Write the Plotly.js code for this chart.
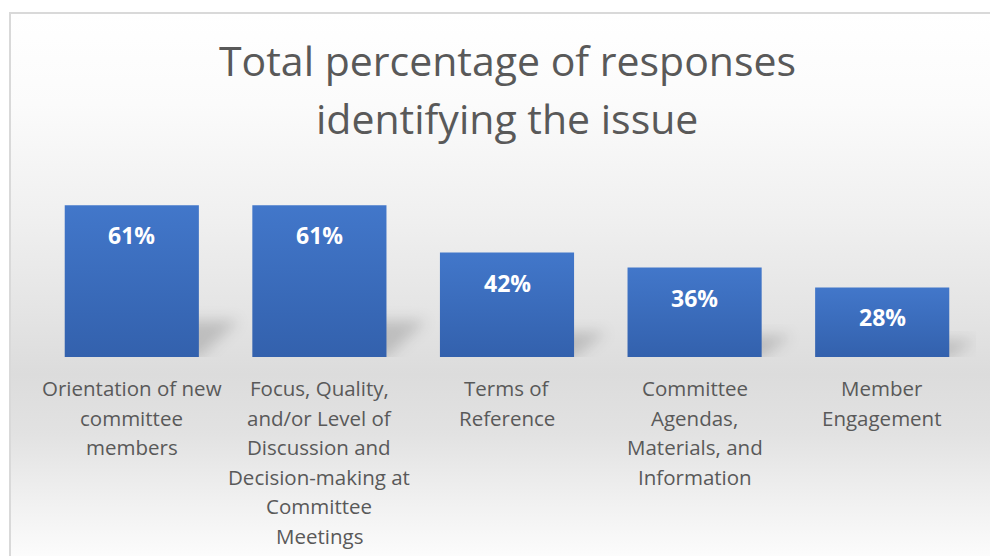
<!DOCTYPE html>
<html>
<head>
<meta charset="utf-8">
<script src="https://cdn.plot.ly/plotly-3.0.1.min.js"></script>
<style>
  html, body { margin: 0; padding: 0; width: 990px; height: 556px; overflow: hidden; background: #ffffff; }
  #frame {
    position: absolute; left: 9px; top: 12px; width: 1000px; height: 560px;
    border: 2px solid #d9d9d9; box-sizing: border-box;
    background: linear-gradient(to bottom, #ffffff 0px, #fbfbfb 90px, #f0f0f0 200px, #e4e4e4 300px, #dcdcdc 360px, #e2e2e2 420px, #efefef 480px, #fcfcfc 544px);
  }
  #plot { position: absolute; left: 0; top: 0; width: 990px; height: 556px; }
</style>
</head>
<body>
<div id="frame"></div>
<div id="plot"></div>
<script>
// chart data
var categories = ["Orientation", "Focus", "Terms", "Agendas", "Engagement"];
var categoryLines = [
    ["Orientation of new", "committee", "members"],
    ["Focus, Quality,", "and/or Level of", "Discussion and", "Decision-making at", "Committee", "Meetings"],
    ["Terms of", "Reference"],
    ["Committee", "Agendas,", "Materials, and", "Information"],
    ["Member", "Engagement"]
];
var percentValues = [61, 61, 42, 36, 28];
var titleLines = ["Total percentage of responses", "identifying the issue"];

var textGray = '#595959';
var fontName = '"Open Sans", sans-serif';

var trace1 = {
    x: categories,
    y: percentValues,
    type: 'bar',
    marker: { color: '#3a6cbd' },
    hoverinfo: 'skip'
};

var annotations = [];

// value labels inside the bars, near the top
for (var i = 0; i < categories.length; i++) {
    annotations.push({
        x: categories[i], y: percentValues[i],
        xref: 'x', yref: 'y',
        text: '<b>' + percentValues[i] + '%</b>',
        showarrow: false,
        yanchor: 'middle',
        yshift: -30,
        font: { family: fontName, size: 23, color: '#ffffff' }
    });
}

// category labels, one annotation per line to get the wide line spacing
for (var c = 0; c < categories.length; c++) {
    for (var l = 0; l < categoryLines[c].length; l++) {
        annotations.push({
            x: categories[c], y: 0,
            xref: 'x', yref: 'y',
            text: categoryLines[c][l],
            showarrow: false,
            yanchor: 'middle',
            yshift: -31 - l * 29.5,
            font: { family: fontName, size: 20.5, color: textGray }
        });
    }
}

// two line title
for (var t = 0; t < titleLines.length; t++) {
    annotations.push({
        x: 0.5, y: 1,
        xref: 'paper', yref: 'paper',
        text: titleLines[t],
        showarrow: false,
        yanchor: 'middle',
        yshift: 123 - t * 58,
        font: { family: fontName, size: 41, color: textGray }
    });
}

var layout = {
    width: 990,
    height: 556,
    paper_bgcolor: 'rgba(0,0,0,0)',
    plot_bgcolor: 'rgba(0,0,0,0)',
    showlegend: false,
    bargap: 0.285,
    xaxis: { showticklabels: false, showgrid: false, zeroline: false, showline: false, ticks: '', fixedrange: true },
    yaxis: { range: [0, 70], visible: false, showgrid: false, zeroline: false, fixedrange: true },
    annotations: annotations,
    margin: {
        t: 183, //top margin
        l: 38,  //left margin
        r: 14,  //right margin
        b: 199  //bottom margin
    }
};

Plotly.newPlot('plot', [trace1], layout, { displayModeBar: false, staticPlot: true }).then(function (gd) {
    var svg = gd.querySelector('svg.main-svg');
    var ns = 'http://www.w3.org/2000/svg';
    var defs = svg.querySelector('defs');

    // vertical gradient on the bars, as in the original
    var grad = document.createElementNS(ns, 'linearGradient');
    grad.setAttribute('id', 'barGrad');
    grad.setAttribute('x1', '0'); grad.setAttribute('y1', '0');
    grad.setAttribute('x2', '0'); grad.setAttribute('y2', '1');
    [['0', '#4277ca'], ['1', '#3361ad']].forEach(function (s) {
        var stop = document.createElementNS(ns, 'stop');
        stop.setAttribute('offset', s[0]);
        stop.setAttribute('stop-color', s[1]);
        grad.appendChild(stop);
    });
    defs.appendChild(grad);

    // soft blur for the cast shadows
    var filt = document.createElementNS(ns, 'filter');
    filt.setAttribute('id', 'shadowBlur');
    filt.setAttribute('x', '-50%'); filt.setAttribute('y', '-50%');
    filt.setAttribute('width', '200%'); filt.setAttribute('height', '200%');
    var blur = document.createElementNS(ns, 'feGaussianBlur');
    blur.setAttribute('stdDeviation', '7');
    filt.appendChild(blur);
    defs.appendChild(filt);

    gd.querySelectorAll('.bars .point path').forEach(function (p) {
        p.style.fill = 'url(#barGrad)';
        // shadow falls back and to the right from the base of each bar
        var b = p.getBBox();
        var h = b.height;
        var dx = 16 + 0.16 * h, dy = 0.24 * h;
        var x0 = b.x, x1 = b.x + b.width, y1 = b.y + b.height;
        var sh = document.createElementNS(ns, 'polygon');
        sh.setAttribute('points', [
            (x0 + 10) + ',' + y1, x1 + ',' + y1,
            (x1 + dx) + ',' + (y1 - dy), (x0 + dx) + ',' + (y1 - dy)
        ].join(' '));
        sh.setAttribute('fill', '#000000');
        sh.setAttribute('fill-opacity', '0.16');
        sh.setAttribute('filter', 'url(#shadowBlur)');
        p.parentNode.insertBefore(sh, p);
    });
});
</script>
</body>
</html>
